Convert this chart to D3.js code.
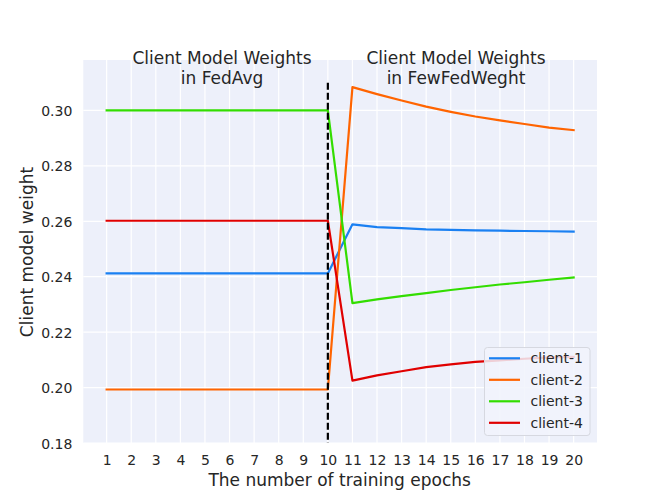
<!DOCTYPE html>
<html>
<head>
<meta charset="utf-8">
<script src="https://cdn.jsdelivr.net/npm/d3@7"></script>
<style>
  html, body { margin: 0; padding: 0; background: #ffffff; }
  svg { display: block; font-family: "DejaVu Sans", sans-serif; }
</style>
</head>
<body>
<svg id="chart" width="664" height="498"></svg>
<script>
const epochs = [1,2,3,4,5,6,7,8,9,10,11,12,13,14,15,16,17,18,19,20];
const client1 = [0.2412,0.2412,0.2412,0.2412,0.2412,0.2412,0.2412,0.2412,0.2412,0.2412,0.2589,0.2579,0.2575,0.2571,0.2569,0.2567,0.2566,0.2565,0.2564,0.2563];
const client2 = [0.1993,0.1993,0.1993,0.1993,0.1993,0.1993,0.1993,0.1993,0.1993,0.1993,0.3084,0.3059,0.3036,0.3014,0.2995,0.2978,0.2964,0.2951,0.2938,0.2929];
const client3 = [0.3000,0.3000,0.3000,0.3000,0.3000,0.3000,0.3000,0.3000,0.3000,0.3000,0.2305,0.2318,0.2330,0.2341,0.2352,0.2362,0.2372,0.2380,0.2389,0.2397];
const client4 = [0.2602,0.2602,0.2602,0.2602,0.2602,0.2602,0.2602,0.2602,0.2602,0.2602,0.2025,0.2044,0.2059,0.2074,0.2084,0.2093,0.2098,0.2104,0.2109,0.2111];
const seriesNames = ["client-1","client-2","client-3","client-4"];
const seriesColors = ["#1a80f2","#ff6400","#33dd00","#e00000"];
const yTicks = [0.18,0.20,0.22,0.24,0.26,0.28,0.30];
const leftTitle = ["Client Model Weights","in FedAvg"];
const rightTitle = ["Client Model Weights","in FewFedWeght"];
const xLabel = "The number of training epochs";
const yLabel = "Client model weight";
const splitEpoch = 10;
const splitTop = 0.31;

const allSeries = [client1, client2, client3, client4];

const svg = d3.select("#chart");
const plot = {left: 83.3, right: 597, top: 60, bottom: 443};

const x = d3.scaleLinear().domain([0.05, 20.95]).range([plot.left, plot.right]);
const y = d3.scaleLinear().domain([0.18, 0.3182]).range([plot.bottom, plot.top]);

// background
svg.append("rect")
  .attr("x", plot.left).attr("y", plot.top)
  .attr("width", plot.right - plot.left).attr("height", plot.bottom - plot.top)
  .attr("fill", "#edf0fa");

// grid
const grid = svg.append("g");
grid.selectAll("line.vx").data(epochs).enter().append("line")
  .attr("x1", d => x(d)).attr("x2", d => x(d))
  .attr("y1", plot.top).attr("y2", plot.bottom)
  .attr("stroke", "#ffffff").attr("stroke-width", 1.2);
grid.selectAll("line.hy").data(yTicks).enter().append("line")
  .attr("x1", plot.left).attr("x2", plot.right)
  .attr("y1", d => y(d)).attr("y2", d => y(d))
  .attr("stroke", "#ffffff").attr("stroke-width", 1.2);

// axes via d3 axis generators
const xAxis = d3.axisBottom(x).tickValues(epochs).tickSize(0).tickPadding(0).tickFormat(d3.format("d"));
const gx = svg.append("g").attr("transform", `translate(0,${plot.bottom})`).call(xAxis);
gx.select(".domain").remove();
gx.selectAll("text").attr("font-size", 14).attr("fill", "#262626")
  .attr("font-family", "DejaVu Sans").attr("dy", null).attr("y", 22);

const yAxis = d3.axisLeft(y).tickValues(yTicks).tickSize(0).tickPadding(0).tickFormat(d3.format(".2f"));
const gy = svg.append("g").attr("transform", `translate(${plot.left},0)`).call(yAxis);
gy.select(".domain").remove();
gy.selectAll("text").attr("font-size", 14).attr("fill", "#262626")
  .attr("font-family", "DejaVu Sans").attr("x", -11).attr("dy", "0.36em");

// lines
const line = d3.line().x((d, i) => x(epochs[i])).y(d => y(d));
svg.append("g").selectAll("path").data(allSeries).enter().append("path")
  .attr("d", d => line(d))
  .attr("fill", "none")
  .attr("stroke", (d, i) => seriesColors[i])
  .attr("stroke-width", 2.2)
  .attr("stroke-linejoin", "round")
  .attr("stroke-linecap", "square");

// dashed split line
svg.append("line")
  .attr("x1", x(splitEpoch)).attr("x2", x(splitEpoch))
  .attr("y1", y(splitTop)).attr("y2", y(0.18))
  .attr("stroke", "#000000").attr("stroke-width", 2.2)
  .attr("stroke-dasharray", "7,3");

// titles
function drawTitle(lines, cx) {
  const t = svg.append("text").attr("text-anchor", "middle")
    .attr("font-size", 17).attr("fill", "#262626");
  lines.forEach((s, i) => {
    t.append("tspan").attr("x", cx).attr("y", 64 + i * 20.2).text(s);
  });
}
drawTitle(leftTitle, 222);
drawTitle(rightTitle, 456);

// axis labels
svg.append("text").attr("x", (plot.left + plot.right) / 2 - 0.5).attr("y", 485.5)
  .attr("text-anchor", "middle").attr("font-size", 17).attr("fill", "#262626")
  .text(xLabel);
svg.append("text")
  .attr("transform", `translate(32.5,${(plot.top + plot.bottom) / 2 + 0.5}) rotate(-90)`)
  .attr("text-anchor", "middle").attr("font-size", 17).attr("fill", "#262626")
  .text(yLabel);

// legend
const lg = svg.append("g");
lg.append("rect")
  .attr("x", 484.5).attr("y", 347.5).attr("width", 105.5).attr("height", 88)
  .attr("rx", 3).attr("ry", 3)
  .attr("fill", "#f1f3fb").attr("fill-opacity", 0.85)
  .attr("stroke", "#d6d8e0").attr("stroke-width", 1);
seriesNames.forEach((name, i) => {
  const cy = 358.3 + i * 21.5;
  lg.append("line").attr("x1", 489).attr("x2", 520).attr("y1", cy).attr("y2", cy)
    .attr("stroke", seriesColors[i]).attr("stroke-width", 2.2);
  lg.append("text").attr("x", 530.5).attr("y", cy).attr("dy", "0.36em")
    .attr("font-size", 14).attr("fill", "#262626").text(name);
});
</script>
</body>
</html>
